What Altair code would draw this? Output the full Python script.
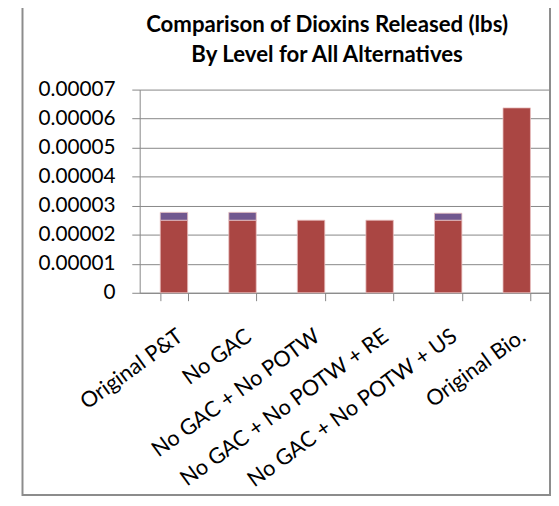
import altair as alt
import pandas as pd

categories = ["Original P&T", "No GAC", "No GAC + No POTW",
              "No GAC + No POTW + RE", "No GAC + No POTW + US", "Original Bio."]
level_a = [2.5e-5, 2.5e-5, 2.5e-5, 2.5e-5, 2.5e-5, 6.37e-5]
level_b = [2.7e-6, 2.7e-6, 0.0, 0.0, 2.4e-6, 0.0]
series_names = ["Level A", "Level B"]
series_colors = ["#AA4643", "#71588F"]
y_ticks = [0, 1e-5, 2e-5, 3e-5, 4e-5, 5e-5, 6e-5, 7e-5]
title_lines = ["Comparison of Dioxins Released (lbs)", "By Level for All Alternatives"]

rows = []
for c, a, b in zip(categories, level_a, level_b):
    rows.append({"cat": c, "series": series_names[0], "value": a, "ord": 0})
    if b > 0:
        rows.append({"cat": c, "series": series_names[1], "value": b, "ord": 1})
df = pd.DataFrame(rows)

FONT = "Lato"
GRAY = "#868686"
W, H = 417, 206

bars = alt.Chart(df).mark_bar(stroke="#E8C0C0", strokeWidth=0.8).encode(
    x=alt.X("cat:N", sort=categories,
            scale=alt.Scale(paddingInner=0.6, paddingOuter=0.3),
            axis=alt.Axis(title=None, labelAngle=-36, labelAlign="right",
                          labelBaseline="top", tickBand="extent", tickSize=8,
                          labelPadding=25, labelFontSize=22, labelFont=FONT,
                          labelLimit=0, labelOverlap=False,
                          labelColor="#000000", domainColor=GRAY, tickColor=GRAY,
                          grid=False)),
    y=alt.Y("value:Q", stack="zero",
            scale=alt.Scale(domain=[0, 7e-5], nice=False),
            axis=alt.Axis(title=None, values=y_ticks,
                          labelExpr="datum.value == 0 ? '0' : format(datum.value, '.5f')",
                          tickSize=8, labelPadding=17, labelFontSize=21, labelFont=FONT,
                          labelColor="#000000", domainColor=GRAY, tickColor=GRAY,
                          gridColor=GRAY, gridWidth=1)),
    color=alt.Color("series:N", scale=alt.Scale(domain=series_names, range=series_colors),
                    legend=None),
    order=alt.Order("ord:Q"),
)

one = pd.DataFrame({"k": [0]})

border = alt.Chart(one).mark_rect(
    filled=False, stroke="#8C8C8C", strokeWidth=2, clip=False
).encode(
    x=alt.value(-118.8), x2=alt.value(416), y=alt.value(-150), y2=alt.value(411)
)

title1 = alt.Chart(one).mark_text(
    text=title_lines[0], font=FONT, fontSize=22.5, fontWeight="bold",
    color="#000000", align="center", baseline="alphabetic", clip=False
).encode(x=alt.value(190), y=alt.value(-58))

title2 = alt.Chart(one).mark_text(
    text=title_lines[1], font=FONT, fontSize=22.5, fontWeight="bold",
    color="#000000", align="center", baseline="alphabetic", clip=False
).encode(x=alt.value(190), y=alt.value(-28))

chart = alt.layer(bars, border, title1, title2).properties(
    width=W, height=H,
    autosize=alt.AutoSizeParams(type="none"),
    padding={"left": 133.5, "top": 79.3, "right": 0, "bottom": 210},
).configure_view(stroke=None)

chart.save("out.html", embed_options={"renderer": "svg", "actions": False})
